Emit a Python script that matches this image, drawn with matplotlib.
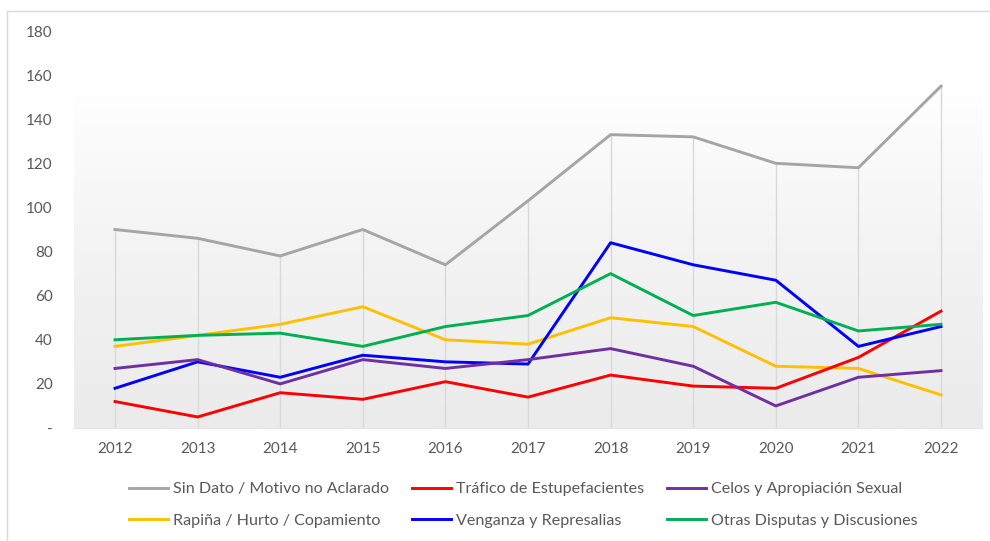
import matplotlib
matplotlib.use('Agg')
import matplotlib.pyplot as plt
import numpy as np
from matplotlib.patches import Rectangle
from matplotlib.colors import LinearSegmentedColormap

plt.rcParams['font.family'] = ['Lato', 'DejaVu Sans']

years = [2012, 2013, 2014, 2015, 2016, 2017, 2018, 2019, 2020, 2021, 2022]
sin_dato = [90, 86, 78, 90, 74, 103, 133, 132, 120, 118, 155]
trafico = [12, 5, 16, 13, 21, 14, 24, 19, 18, 32, 53]
celos = [27, 31, 20, 31, 27, 31, 36, 28, 10, 23, 26]
rapina = [37, 42, 47, 55, 40, 38, 50, 46, 28, 27, 15]
venganza = [18, 30, 23, 33, 30, 29, 84, 74, 67, 37, 46]
otras = [40, 42, 43, 37, 46, 51, 70, 51, 57, 44, 47]

# legend fills column by column, so this order gives the reference rows
series = [
    ('Sin Dato / Motivo no Aclarado', sin_dato, '#a5a5a5'),
    ('Rapiña / Hurto / Copamiento', rapina, '#ffc000'),
    ('Tráfico de Estupefacientes', trafico, '#ff0000'),
    ('Venganza y Represalias', venganza, '#0000ff'),
    ('Celos y Apropiación Sexual', celos, '#7030a0'),
    ('Otras Disputas y Discusiones', otras, '#00b050'),
]

fig = plt.figure(figsize=(9.9, 5.41), dpi=100)
fig.patches.append(Rectangle((7 / 990, -0.1), 1.2, 1 - 11 / 541 + 0.1,
                             transform=fig.transFigure, fill=False,
                             edgecolor='#d9d9d9', lw=1))
ax = fig.add_axes([73.7 / 990, 1 - 428 / 541, (982.3 - 73.7) / 990, (428 - 31) / 541])

# gradient plot area background
grad = np.linspace(0, 1, 200).reshape(-1, 1)
cmap = LinearSegmentedColormap.from_list('g', ['#ebebeb', '#f3f3f3', '#ffffff'])
ax.imshow(grad, extent=[2011.5, 2022.5, 0, 158], origin='lower', cmap=cmap,
          aspect='auto', zorder=0)

# drop lines
tops = np.max([s[1] for s in series], axis=0)
ax.vlines(years, 0, tops, color='#d9d9d9', lw=1, zorder=1)

for name, vals, col in series:
    ax.plot(years, vals, color=col, lw=2.1, label=name, zorder=3)

ax.set_xlim(2011.5, 2022.5)
ax.set_ylim(0, 180)
ax.set_xticks(years)
ax.set_xticklabels([str(y) for y in years])
ax.set_yticks(range(0, 181, 20))
ax.set_yticklabels(['-'] + [str(v) for v in range(20, 181, 20)])
ax.tick_params(length=0, labelsize=11, colors='#595959')
ax.tick_params(axis='x', pad=10)
ax.tick_params(axis='y', pad=15)
for sp in ['top', 'right', 'left']:
    ax.spines[sp].set_visible(False)
ax.spines['bottom'].set_color('#e6e6e6')
ax.set_facecolor('none')

leg = ax.legend(loc='upper left', bbox_to_anchor=(49 / 908.6, -0.12), ncol=3,
                frameon=False, fontsize=11.6, handlelength=2.4, handletextpad=0.35,
                columnspacing=1.4, labelspacing=1.05, borderaxespad=0)
for t in leg.get_texts():
    t.set_color('#595959')

fig.savefig('out.png', dpi=100, facecolor='white')
